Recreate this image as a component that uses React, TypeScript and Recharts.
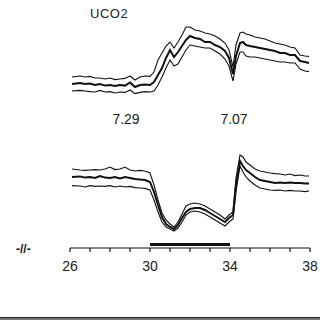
import { LineChart, Line, XAxis, YAxis, ReferenceLine } from 'recharts';

// time axis (min) shared by both trace groups
const time = [
  26.1, 26.5, 26.75, 27, 27.25, 27.5, 27.75, 28, 28.25, 28.5, 28.75, 29, 29.25, 29.5, 29.75, 30,
  30.2, 30.4, 30.6, 30.8, 31, 31.2, 31.4, 31.6, 31.8, 32,
  32.25, 32.5, 32.75, 33, 33.25, 33.5, 33.75,
  33.95, 34.15, 34.3, 34.5, 34.65, 34.8,
  35, 35.25, 35.5, 35.75, 36, 36.25, 36.5, 36.75, 37, 37.25, 37.5, 37.75, 37.95,
];

// upper trace group (arbitrary units): mean, +SD, -SD
const topMean = [
  82, 82.5, 82, 82.2, 81.5, 82, 81.2, 81.5, 81, 81.5, 81.2, 82.8, 80.5, 81.5, 81.8, 81.5,
  83, 86.5, 90, 95, 99, 95.5, 98, 101, 104, 106,
  105, 104.5, 103, 103, 101.5, 100.5, 98.5,
  95, 87, 96, 102.5, 103, 101.5,
  101, 100.5, 100, 99.5, 99, 98.5, 97.5, 97.5, 96.5, 96.5, 93.5, 93, 92.5,
];
const topUpper = [
  85.5, 86, 85.5, 85.8, 85, 85, 84.5, 85, 84.2, 84.5, 84.8, 86, 84, 85.5, 86, 85.8,
  88, 94, 97.5, 101, 103, 100, 103, 106.5, 110.5, 110.5,
  109, 108.5, 107.5, 107, 106, 104.5, 102.5,
  99, 90.5, 101.5, 107.5, 108, 107,
  106.5, 105.5, 105, 104.5, 103.5, 102.5, 102, 101.5, 100.5, 100, 96.5, 96, 95.8,
];
const topLower = [
  78.5, 78.8, 78.5, 78.2, 78, 78.8, 78, 78.2, 77.5, 78, 77.8, 79, 77.2, 77.8, 78.2, 78,
  78.5, 81.5, 85.5, 90, 94, 91, 92, 95.5, 99, 101.5,
  101, 100.5, 100, 100, 98.5, 97, 94.5,
  91, 83.5, 92, 98, 98, 96,
  95.5, 95.5, 95, 94.5, 94, 93.5, 93, 93, 92.5, 92.5, 89.5, 88.5, 88.2,
];

// lower trace group (arbitrary units): mean, +SD, -SD
const botMean = [
  35.5, 35.8, 35.2, 35.5, 35, 36, 35.2, 35, 35.5, 34.8, 35.5, 35, 34.5, 34.2, 34, 33,
  28, 21.5, 15.5, 12, 10.5, 9.5, 11.5, 15, 18, 19.5,
  20, 20, 19, 17.5, 16, 14.5, 13,
  15, 16.5, 31.5, 43.5, 41, 39,
  37.5, 35.5, 34, 33.5, 33, 32.5, 32.8, 32.5, 32.8, 32.5, 32.5, 32.2, 32.2,
];
const botUpper = [
  39.5, 39, 38.8, 39, 39.2, 39, 39.5, 40.5, 39.2, 39.5, 40.5, 39, 38.5, 38.8, 38.5, 37.5,
  31.5, 24, 17.5, 14, 12, 10.5, 13, 17, 21, 22,
  22.5, 22, 21, 19.5, 18, 16.5, 14.5,
  16.5, 18, 35, 46.5, 45.5, 43,
  41.5, 39.5, 38.5, 38, 37.5, 37.2, 37, 36.5, 37, 36.2, 36.5, 36, 36,
];
const botLower = [
  31.2, 31, 30.5, 31.2, 30.8, 31, 30.8, 31.2, 30.5, 31, 30.5, 30.8, 30.2, 30, 29.8, 29,
  24, 18, 13, 10.5, 9.5, 8.5, 10, 13, 16.5, 18,
  18.5, 18, 17, 15.5, 14, 12.5, 11,
  13, 14.5, 28, 41, 38, 35.5,
  33.5, 31.5, 30, 29.5, 29, 28.8, 29, 28.5, 28.8, 28.5, 28.5, 28.2, 28.5,
];

const xTicks = [26, 27, 28, 29, 30, 31, 32, 33, 34, 35, 36, 37, 38];
const labeledTicks = [26, 30, 34, 38];
const occlusion = [30, 34];
const phLabels = ['7.29', '7.07'];

const data = time.map((t, i) => ({
  t,
  topMean: topMean[i],
  topUpper: topUpper[i],
  topLower: topLower[i],
  botMean: botMean[i],
  botUpper: botUpper[i],
  botLower: botLower[i],
}));

const font = '"Liberation Sans", Arial, Helvetica, sans-serif';
const ink = '#111';

export default function App() {
  return (
    <div style={{ position: 'absolute', left: 0, top: 0, width: 320, height: 320, background: '#fff', fontFamily: font }}>
      <LineChart width={320} height={320} data={data} margin={{ top: 20, right: 10, left: 70, bottom: 42 }}>
        <XAxis
          dataKey="t"
          type="number"
          domain={[26, 38]}
          ticks={xTicks}
          height={30}
          tickSize={4}
          tickMargin={9}
          stroke={ink}
          strokeWidth={1.2}
          tick={{ fill: '#222', fontSize: 14, fontFamily: font }}
          tickFormatter={(v: number) => (labeledTicks.includes(v) ? String(v) : '')}
        />
        <YAxis hide domain={[0, 114]} />
        <ReferenceLine
          segment={[{ x: occlusion[0], y: 1.75 }, { x: occlusion[1], y: 1.75 }]}
          stroke={ink}
          strokeWidth={3}
        />
        <Line dataKey="topUpper" type="linear" dot={false} stroke={ink} strokeWidth={1.1} isAnimationActive={false} />
        <Line dataKey="topLower" type="linear" dot={false} stroke={ink} strokeWidth={1.1} isAnimationActive={false} />
        <Line dataKey="topMean" type="linear" dot={false} stroke={ink} strokeWidth={2} isAnimationActive={false} />
        <Line dataKey="botUpper" type="linear" dot={false} stroke={ink} strokeWidth={1.1} isAnimationActive={false} />
        <Line dataKey="botLower" type="linear" dot={false} stroke={ink} strokeWidth={1.1} isAnimationActive={false} />
        <Line dataKey="botMean" type="linear" dot={false} stroke={ink} strokeWidth={2} isAnimationActive={false} />
      </LineChart>

      <div style={{ position: 'absolute', left: 90, top: 6, fontSize: 13, color: '#222', letterSpacing: 0.5 }}>UCO2</div>
      <div style={{ position: 'absolute', left: 96, width: 60, top: 111, textAlign: 'center', fontSize: 14, color: '#222' }}>{phLabels[0]}</div>
      <div style={{ position: 'absolute', left: 204, width: 60, top: 111, textAlign: 'center', fontSize: 14, color: '#222' }}>{phLabels[1]}</div>
      <div style={{ position: 'absolute', left: 16, top: 242, fontSize: 12, fontWeight: 'bold', color: '#111' }}>-//-</div>

      <div style={{ position: 'absolute', left: 0, top: 317, width: 320, height: 2, background: '#777', borderTop: '1px solid #222' }} />
    </div>
  );
}
